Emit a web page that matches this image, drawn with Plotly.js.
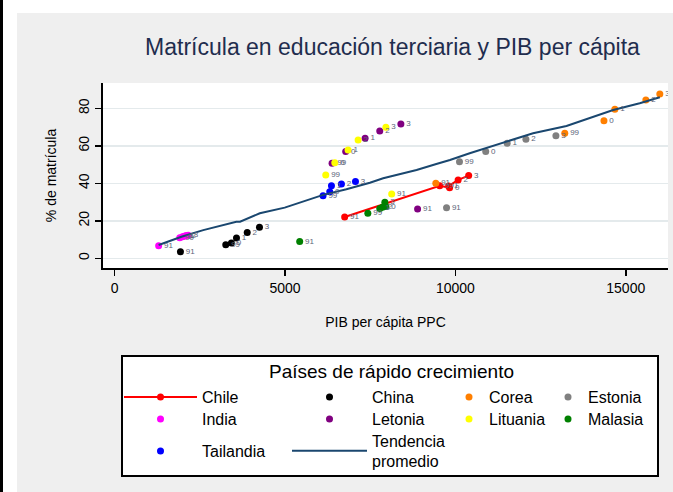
<!DOCTYPE html>
<html><head><meta charset="utf-8">
<script src="https://cdn.plot.ly/plotly-3.0.1.min.js"></script>
<style>
html,body{margin:0;padding:0;background:#fff;width:673px;height:492px;overflow:hidden;}
#bar{position:absolute;left:0;top:0;width:3px;height:492px;background:#000;}
#chart{position:absolute;left:17px;top:13px;width:656px;height:479px;}
</style></head><body>
<div id="bar"></div><div id="chart"></div>
<script>
// Data (PIB per cápita PPC, % de matrícula terciaria), year labels
const yearLabels = ['91','99','0','1','2','3'];

const chileX = [6750, 9540, 9830, 9800, 10080, 10390];
const chileY = [22.0, 38.7, 37.6, 38.5, 41.8, 44.1];

const chinaX = [1930, 3260, 3425, 3575, 3890, 4250];
const chinaY = [3.5, 7.2, 8.2, 10.8, 13.7, 16.5];

const coreaX = [9425, 13210, 14360, 14680, 15590, 16000];
const coreaY = [40.0, 66.7, 73.4, 79.5, 84.4, 87.6];

const estoniaX = [9740, 10120, 10890, 11520, 12070, 12950];
const estoniaY = [27.0, 51.5, 56.9, 61.3, 63.5, 65.4];

const indiaX = [1290, 1910, 1990, 2040, 2100, 2160];
const indiaY = [6.7, 10.9, 11.5, 11.8, 12.1, 12.3];

const letoniaX = [8890, 6380, 6780, 7350, 7780, 8400];
const letoniaY = [26.3, 50.7, 56.9, 64.0, 67.9, 71.6];

const lituaniaX = [8130, 6195, 6460, 6850, 7145, 7960];
const lituaniaY = [34.3, 44.4, 51.0, 57.8, 63.1, 69.9];

const malasiaX = [5430, 7430, 7960, 7780, 7860, 7930];
const malasiaY = [8.9, 24.0, 27.6, 26.6, 27.2, 29.9];

const tailandiaX = [6116, 6312, 6362, 6655, 7067];
const tailandiaY = [33.4, 35.5, 38.7, 39.6, 40.9];
const tailandiaLabels = ['99','0','1','2','3'];

const trendX = [1290,1960,2600,3570,3680,4260,4990,5440,6120,6800,7490,7880,8370,8860,9440,9840,10420,11010,11500,12280,13260,13950,14630,15410,16000];
const trendY = [7.1,11.5,15.0,19.5,19.5,24.0,27.0,29.6,33.8,36.8,40.3,42.7,44.8,47.1,50.3,52.4,56.0,59.5,62.2,66.7,70.6,74.7,79.1,82.7,85.9];

const xTicks = [0, 5000, 10000, 15000];
const yTicks = [0, 20, 40, 60, 80];

const FONT = 'Liberation Sans, Arial, Helvetica, sans-serif';

// plot area in pixels (inside the figure div) for converting legend slot positions
const PLOT_L = 86, PLOT_W = 565, PLOT_T = 70, PLOT_H = 185;
const px2x = p => (p - 17 - PLOT_L) / PLOT_W;          // absolute page px -> paper x
const py2y = p => 1 - (p - 13 - PLOT_T) / PLOT_H;      // absolute page px -> paper y

// legend slots: [entry start px, item width, row center px]
const COL = [[119, 73], [287, 75], [449, 30], [548, 30]];
const ROW = [397, 419, 451];

const countries = [
  {name:'Chile', x:chileX, y:chileY, labels:yearLabels, color:'#ff0000', line:true, col:0, row:0},
  {name:'China', x:chinaX, y:chinaY, labels:yearLabels, color:'#000000', col:1, row:0},
  {name:'Corea', x:coreaX, y:coreaY, labels:yearLabels, color:'#ff7f00', col:2, row:0},
  {name:'Estonia', x:estoniaX, y:estoniaY, labels:yearLabels, color:'#808080', col:3, row:0},
  {name:'India', x:indiaX, y:indiaY, labels:yearLabels, color:'#ff00ff', col:0, row:1},
  {name:'Letonia', x:letoniaX, y:letoniaY, labels:yearLabels, color:'#800080', col:1, row:1},
  {name:'Lituania', x:lituaniaX, y:lituaniaY, labels:yearLabels, color:'#ffff00', col:2, row:1},
  {name:'Malasia', x:malasiaX, y:malasiaY, labels:yearLabels, color:'#008000', col:3, row:1},
  {name:'Tailandia', x:tailandiaX, y:tailandiaY, labels:tailandiaLabels, color:'#0000ff', col:0, row:2}
];

const layout = {
  width:656, height:479,
  margin:{l:PLOT_L, r:5, t:PLOT_T, b:224},
  paper_bgcolor:'#efefef', plot_bgcolor:'#ffffff',
  font:{family:FONT, color:'#000'},
  title:{text:'Matrícula en educación terciaria y PIB per cápita',
    font:{family:FONT, size:23, color:'#1f2d4e'},
    xref:'container', x:0.5724, xanchor:'center',
    yref:'container', y:0.929, yanchor:'middle'},
  xaxis:{range:[-343, 16240], tickvals:xTicks, ticktext:xTicks.map(String),
    showgrid:false, zeroline:false, showline:true, linecolor:'#000', linewidth:2,
    ticks:'outside', ticklen:6, tickwidth:1.5, tickcolor:'#000',
    tickfont:{size:14, color:'#000'},
    title:{text:'PIB per cápita PPC', font:{size:14, color:'#000'}, standoff:22}},
  yaxis:{range:[-5.2, 93.5], tickvals:yTicks, ticktext:yTicks.map(String),
    showgrid:true, gridcolor:'#e4eaec', gridwidth:1.5, zeroline:false,
    showline:true, linecolor:'#000', linewidth:2,
    ticks:'outside', ticklen:6, tickwidth:1.5, tickcolor:'#000', tickangle:-90,
    tickfont:{size:14, color:'#000'},
    title:{text:'% de matrícula', font:{size:14, color:'#000'}, standoff:17}},
  shapes:[{type:'rect', xref:'paper', yref:'paper',
    x0:px2x(122), x1:px2x(658), y0:py2y(476), y1:py2y(356),
    fillcolor:'#ffffff', line:{color:'#000', width:2}, layer:'above'}],
  annotations:[{text:'Países de rápido crecimiento', xref:'paper', yref:'paper',
    x:px2x(391), y:py2y(371), xanchor:'center', yanchor:'middle', showarrow:false,
    font:{family:FONT, size:19, color:'#000'}}],
  showlegend:true
};

function legendSlot(id, col, row) {
  layout[id] = {
    x:px2x(COL[col][0]), xanchor:'left', y:py2y(ROW[row]), yanchor:'middle',
    bgcolor:'rgba(0,0,0,0)', borderwidth:0, itemwidth:COL[col][1],
    font:{family:FONT, size:16, color:'#000'}, orientation:'v'
  };
}

const traces = countries.map((c, i) => {
  const id = i === 0 ? 'legend' : 'legend' + (i + 1);
  legendSlot(id, c.col, c.row);
  return {
    type:'scatter', name:c.name, x:c.x, y:c.y, legend:id,
    mode: c.line ? 'lines+markers' : 'markers',
    marker:{color:c.color, size:7},
    line:{color:c.color, width:2},
    hoverinfo:'skip'
  };
});

legendSlot('legend10', 1, 2);
traces.push({
  type:'scatter', name:'Tendencia<br>promedio', x:trendX, y:trendY, mode:'lines', legend:'legend10',
  line:{color:'#1a476f', width:2}, hoverinfo:'skip'
});

// year labels next to each point
let lx = [], ly = [], lt = [];
countries.forEach(c => { lx = lx.concat(c.x); ly = ly.concat(c.y); lt = lt.concat(c.labels); });
traces.push({
  type:'scatter', x:lx, y:ly, text:lt, mode:'markers+text', showlegend:false,
  marker:{size:7, opacity:0}, textposition:'middle right',
  textfont:{family:FONT, size:8, color:'#5b6478'}, hoverinfo:'skip'
});

Plotly.newPlot('chart', traces, layout, {staticPlot:true, displayModeBar:false});
</script></body></html>
